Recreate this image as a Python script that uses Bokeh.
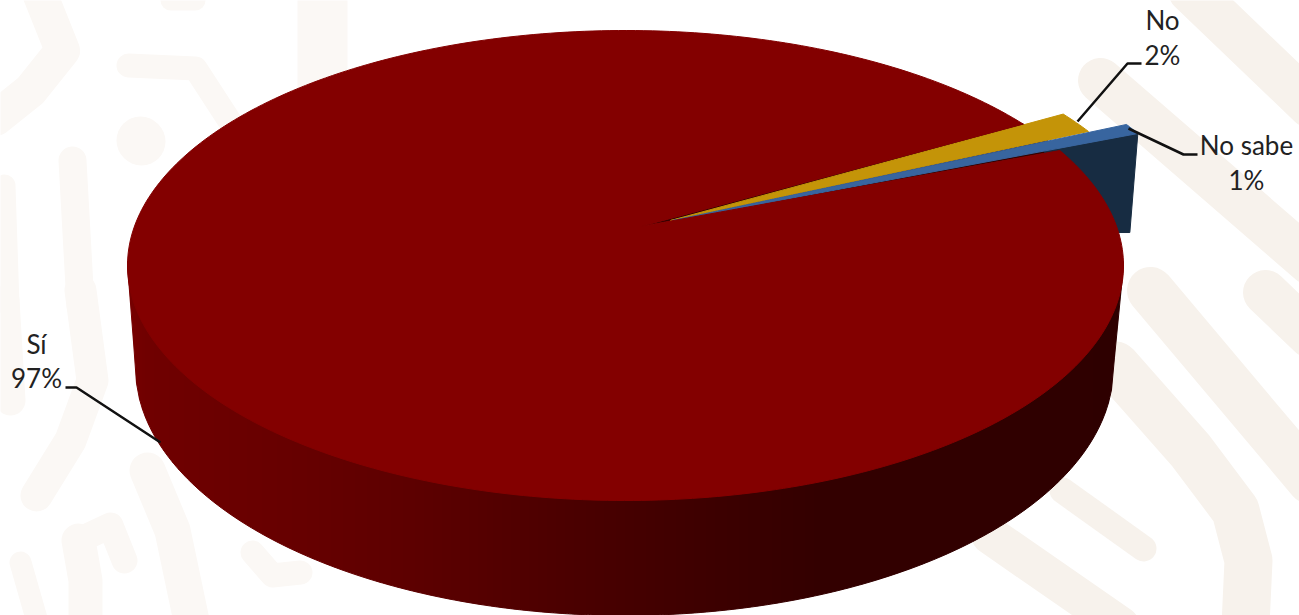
import math
from bokeh.plotting import figure
from bokeh.models import Range1d
from bokeh.core.properties import value
from bokeh.embed import file_html
from bokeh.resources import INLINE

# Data
categories = ["Sí", "No", "No sabe"]
values = [97, 2, 1]
colors_top = ["#830000", "#c49408", "#38659f"]
color_blue_side = "#172c42"
color_notch = "#340000"

# Pie geometry, in reference pixels
TOP_CX, TOP_CY, TOP_RX, TOP_RY = 625, 265, 498, 235
BOT_CX, BOT_CY, BOT_RX, BOT_RY = 624, 367, 489, 248
START_DEG = 37.0          # rim angle where "No" begins, clockwise from there
DEG_PER_PCT_SMALL = 2.57  # foreshortening of the far side of the tilted pie
APEX = {"Sí": (640, 226), "No": (670, 220), "No sabe": (672, 220)}
EXPLODE = {"No": (40, -10), "No sabe": (78, -17)}
SIDE_DEPTH = (-8, 99)

# Shading of the front wall, from left to right
wall_x = [127, 145, 300, 420, 560, 700, 820, 1000, 1123]
wall_red = [0x78, 0x70, 0x66, 0x5c, 0x4c, 0x3e, 0x33, 0x30, 0x2e]

# Pale background emblem: (width, colour, stroke path)
wm_right = "#f7f2ec"
wm_left = "#fbf8f5"
watermark = [
    (45, wm_right, [(1190, -10), (1310, 105)]),
    (45, wm_right, [(1100, 80), (1310, 262)]),
    (45, wm_right, [(1265, 292), (1310, 335)]),
    (47, wm_right, [(1150, 290), (1310, 480)]),
    (48, wm_right, [(1115, 365), (1190, 450), (1235, 510), (1248, 560), (1245, 625)]),
    (26, wm_right, [(1062, 490), (1143, 548)]),
    (38, wm_right, [(990, 535), (1120, 625)]),
    (30, wm_left, [(4, 300), (10, 400)]),
    (32, wm_left, [(80, 290), (92, 380), (70, 440), (36, 495)]),
    (36, wm_left, [(147, 470), (172, 530), (192, 625)]),
    (26, wm_left, [(78, 540), (110, 525), (124, 560)]),
    (34, wm_left, [(78, 540), (85, 580), (85, 625)]),
    (22, wm_left, [(20, 562), (38, 625)]),
    (24, wm_left, [(252, 552), (272, 575), (300, 572)]),
    (35, wm_left, [(38, -10), (62, 50), (30, 90), (-5, 118)]),
    (28, wm_left, [(72, 160), (80, 305)]),
    (22, wm_left, [(4, 185), (8, 305)]),
    (48, wm_left, [(140, 140), (141, 141)]),
    (24, wm_left, [(128, 65), (195, 68), (232, 125)]),
    (50, wm_left, [(322, -10), (322, 85)]),
    (20, wm_left, [(170, 0), (195, 0)]),
]

# Leader lines and label anchors, in reference pixels
leaders = {
    "No": [(1077, 121), (1127, 63), (1141, 63)],
    "No sabe": [(1128, 128), (1183, 154), (1197, 154)],
    "Sí": [(160, 442), (76, 387), (65, 387)],
}
label_pos = {"No": (1162, 19.5, 54.5), "No sabe": (1246, 144.5, 179.5), "Sí": (36, 343.5, 377.5)}


def rim(theta_deg, off=(0, 0)):
    t = math.radians(theta_deg)
    return (TOP_CX + TOP_RX * math.cos(t) + off[0], TOP_CY - TOP_RY * math.sin(t) + off[1])


def arc(a, b, off=(0, 0), n=8):
    return [rim(a + (b - a) * i / n, off) for i in range(n + 1)]


def top_lower(x):
    u = max(-1, min(1, (x - TOP_CX) / TOP_RX))
    return TOP_CY + TOP_RY * math.sqrt(1 - u * u)


def wall_bottom(x):
    left, right = BOT_CX - BOT_RX, BOT_CX + BOT_RX
    if x < left:
        return TOP_CY + (BOT_CY - TOP_CY) * (x - (TOP_CX - TOP_RX)) / (left - (TOP_CX - TOP_RX))
    if x > right:
        return TOP_CY + (BOT_CY - TOP_CY) * ((TOP_CX + TOP_RX) - x) / ((TOP_CX + TOP_RX) - right)
    u = (x - BOT_CX) / BOT_RX
    return BOT_CY + BOT_RY * math.sqrt(1 - u * u)


def wall_color(x):
    for i in range(len(wall_x) - 1):
        if wall_x[i] <= x <= wall_x[i + 1]:
            f = (x - wall_x[i]) / (wall_x[i + 1] - wall_x[i])
            r = round(wall_red[i] + (wall_red[i + 1] - wall_red[i]) * f)
            return f"#{r:02x}0000"
    return f"#{wall_red[-1]:02x}0000"


p = figure(width=1299, height=615, output_backend="svg", toolbar_location=None,
           x_range=Range1d(0, 1299), y_range=Range1d(615, 0), min_border=0)
p.axis.visible = False
p.grid.visible = False
p.outline_line_color = None
p.background_fill_color = "white"
p.border_fill_color = "white"

for w, c, path in watermark:
    p.line([q[0] for q in path], [q[1] for q in path], line_width=w, line_color=c,
           line_cap="round", line_join="round")

# Front wall as narrow shaded bands
step = 3
xs_b, ys_b, cs_b = [], [], []
x = wall_x[0]
while x < wall_x[-1]:
    x2 = min(x + step, wall_x[-1])
    xs_b.append([x, x2, x2, x])
    ys_b.append([top_lower(x) - 4, top_lower(x2) - 4, wall_bottom(x2), wall_bottom(x)])
    cs_b.append(wall_color((x + x2) / 2))
    x = x2
p.patches(xs_b, ys_b, fill_color=cs_b, line_color=cs_b, line_width=1)

# Angles from the values
a_no_start = START_DEG
a_no_end = a_no_start - values[1] * DEG_PER_PCT_SMALL
a_ns_end = a_no_end - values[2] * DEG_PER_PCT_SMALL
a_si_end = a_ns_end + 360

# Exposed wall inside the notch left by the pulled-out slices
notch = [APEX["Sí"]] + arc(a_no_start, a_ns_end)
p.patch([q[0] for q in notch], [q[1] for q in notch], fill_color=color_notch, line_color=color_notch)

# Outer wall of "No sabe"
ns_rim = arc(a_no_end, a_ns_end, EXPLODE["No sabe"])
corner = ns_rim[-1]
ax, ay = APEX["No sabe"]
inner = (corner[0] + (ax - corner[0]) * 0.2, corner[1] + (ay - corner[1]) * 0.2)
side = [corner, (corner[0] + SIDE_DEPTH[0], corner[1] + SIDE_DEPTH[1]), (inner[0], corner[1] + SIDE_DEPTH[1]), inner]
p.patch([q[0] for q in side], [q[1] for q in side], fill_color=color_blue_side, line_color=color_blue_side)

# Top faces
no_poly = [APEX["No"]] + arc(a_no_start, a_no_end, EXPLODE["No"])
p.patch([q[0] for q in no_poly], [q[1] for q in no_poly], fill_color=colors_top[1], line_color=colors_top[1])
ns_poly = [APEX["No sabe"]] + ns_rim
p.patch([q[0] for q in ns_poly], [q[1] for q in ns_poly], fill_color=colors_top[2], line_color=colors_top[2])
si_poly = [APEX["Sí"]] + arc(a_si_end, a_no_start, n=360)
p.patch([q[0] for q in si_poly], [q[1] for q in si_poly], fill_color=colors_top[0], line_color=colors_top[0])

# Leaders and labels
for cat, val in zip(categories, values):
    path = leaders[cat]
    p.line([q[0] for q in path], [q[1] for q in path], line_color="#111111", line_width=2.5)
    cx, y1, y2 = label_pos[cat]
    for txt, yy in ((cat, y1), (f"{val}%", y2)):
        p.text([cx], [yy], text=[txt], text_font=value("Lato"), text_font_size="26px",
               text_color="#222222", text_align="center", text_baseline="alphabetic")

open("out.html", "w").write(file_html(p, INLINE))
